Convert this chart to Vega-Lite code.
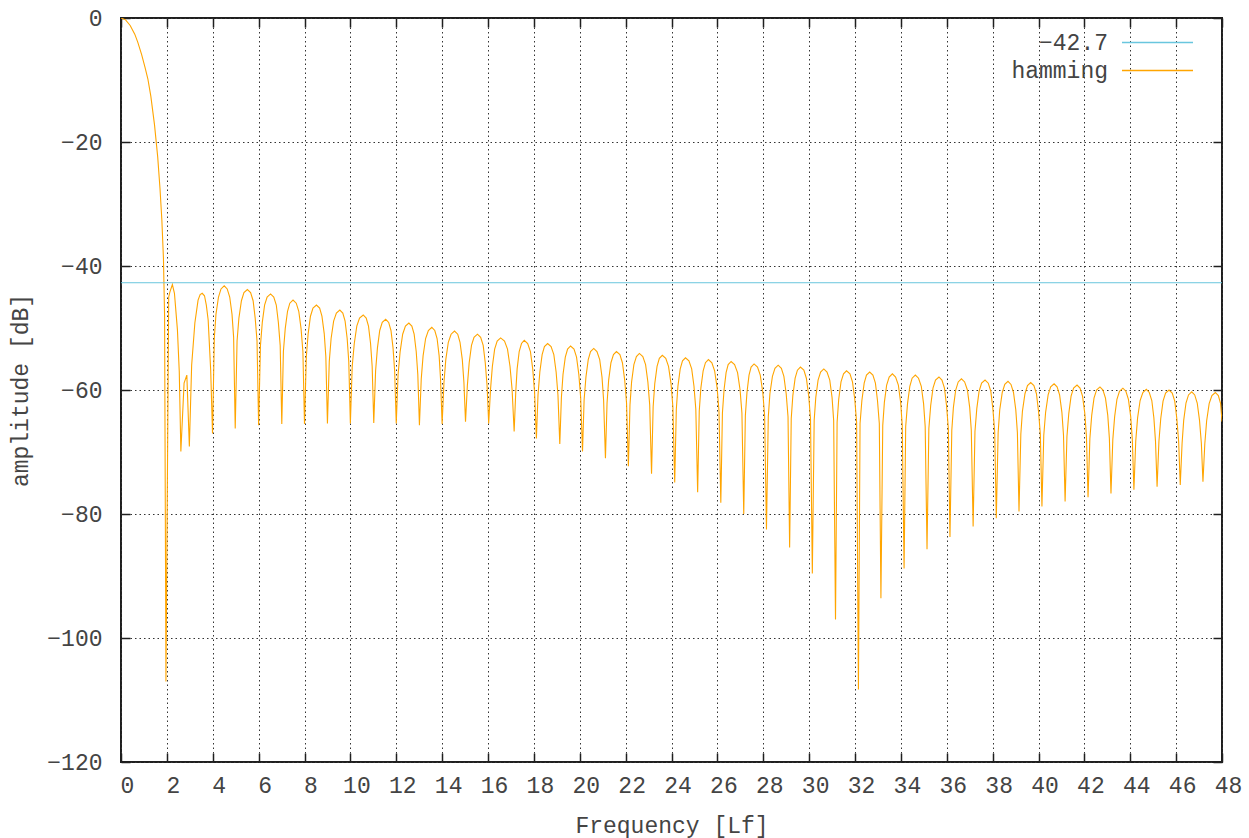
{
  "$schema": "https://vega.github.io/schema/vega-lite/v6.json",
  "width": 1101,
  "height": 744,
  "autosize": {"type": "none"},
  "padding": {"left": 121, "top": 18, "right": 27, "bottom": 76},
  "background": "white",
  "config": {
    "font": "Liberation Mono",
    "view": {"stroke": "#1f1f1f", "strokeWidth": 2},
    "axis": {
      "labelFont": "Liberation Mono",
      "labelFontSize": 23,
      "labelColor": "#444444",
      "titleFont": "Liberation Mono",
      "titleFontSize": 23,
      "titleFontWeight": "normal",
      "titleColor": "#444444",
      "tickColor": "#1f1f1f",
      "tickWidth": 1.5,
      "tickSize": -9,
      "domain": false,
      "gridColor": "#333333",
      "gridOpacity": 1,
      "gridWidth": 1,
      "gridDash": [1.5, 3],
      "labelFlush": false,
      "labelOverlap": false
    }
  },
  "datasets": {
    "hamming": [
      {"f":0,"db":0,"s":"hamming"},{"f":0.2,"db":-0.3,"s":"hamming"},{"f":0.4,"db":-1.2,"s":"hamming"},{"f":0.6,"db":-2.6,"s":"hamming"},{"f":0.73,"db":-3.9,"s":"hamming"},{"f":0.9,"db":-5.9,"s":"hamming"},{"f":1.05,"db":-8.0,"s":"hamming"},{"f":1.17,"db":-9.8,"s":"hamming"},{"f":1.3,"db":-12.6,"s":"hamming"},{"f":1.46,"db":-17.2,"s":"hamming"},{"f":1.6,"db":-22.4,"s":"hamming"},{"f":1.7,"db":-27.5,"s":"hamming"},{"f":1.78,"db":-32.5,"s":"hamming"},{"f":1.85,"db":-38.7,"s":"hamming"},{"f":1.9,"db":-48,"s":"hamming"},{"f":1.96,"db":-107,"s":"hamming"},
      {"f":2.08,"db":-45.0,"s":"hamming"},{"f":2.13,"db":-44.2,"s":"hamming"},{"f":2.24,"db":-43.0,"s":"hamming"},{"f":2.33,"db":-44.4,"s":"hamming"},{"f":2.46,"db":-50.3,"s":"hamming"},{"f":2.54,"db":-57.0,"s":"hamming"},{"f":2.61,"db":-69.9,"s":"hamming"},{"f":2.75,"db":-58.9,"s":"hamming"},{"f":2.87,"db":-57.6,"s":"hamming"},{"f":2.98,"db":-69.1,"s":"hamming"},{"f":3.08,"db":-56.0,"s":"hamming"},{"f":3.22,"db":-49.2,"s":"hamming"},{"f":3.36,"db":-45.5,"s":"hamming"},{"f":3.45,"db":-44.6,"s":"hamming"},{"f":3.54,"db":-44.4,"s":"hamming"},{"f":3.64,"db":-44.8,"s":"hamming"},{"f":3.72,"db":-46.3,"s":"hamming"},{"f":3.8,"db":-48.7,"s":"hamming"},{"f":3.91,"db":-56.8,"s":"hamming"},{"f":3.99,"db":-67.0,"s":"hamming"},
      {"f":4.07,"db":-51.5,"s":"hamming"},{"f":4.14,"db":-47.8,"s":"hamming"},{"f":4.25,"db":-45.0,"s":"hamming"},{"f":4.36,"db":-43.7,"s":"hamming"},{"f":4.5,"db":-43.2,"s":"hamming"},{"f":4.63,"db":-43.7,"s":"hamming"},{"f":4.74,"db":-45.0,"s":"hamming"},{"f":4.84,"db":-47.8,"s":"hamming"},{"f":4.91,"db":-51.5,"s":"hamming"},{"f":4.98,"db":-66.2,"s":"hamming"},
      {"f":5.06,"db":-52.1,"s":"hamming"},{"f":5.14,"db":-48.4,"s":"hamming"},{"f":5.25,"db":-45.6,"s":"hamming"},{"f":5.36,"db":-44.3,"s":"hamming"},{"f":5.51,"db":-43.8,"s":"hamming"},{"f":5.65,"db":-44.3,"s":"hamming"},{"f":5.76,"db":-45.6,"s":"hamming"},{"f":5.85,"db":-48.4,"s":"hamming"},{"f":5.93,"db":-52.1,"s":"hamming"},{"f":6.0,"db":-65.7,"s":"hamming"},
      {"f":6.08,"db":-52.8,"s":"hamming"},{"f":6.16,"db":-49.1,"s":"hamming"},{"f":6.26,"db":-46.3,"s":"hamming"},{"f":6.37,"db":-45.0,"s":"hamming"},{"f":6.52,"db":-44.5,"s":"hamming"},{"f":6.66,"db":-45.0,"s":"hamming"},{"f":6.77,"db":-46.3,"s":"hamming"},{"f":6.86,"db":-49.1,"s":"hamming"},{"f":6.94,"db":-52.8,"s":"hamming"},{"f":7.01,"db":-65.5,"s":"hamming"},
      {"f":7.08,"db":-53.8,"s":"hamming"},{"f":7.16,"db":-50.1,"s":"hamming"},{"f":7.26,"db":-47.3,"s":"hamming"},{"f":7.36,"db":-46.0,"s":"hamming"},{"f":7.5,"db":-45.5,"s":"hamming"},{"f":7.64,"db":-46.0,"s":"hamming"},{"f":7.75,"db":-47.3,"s":"hamming"},{"f":7.85,"db":-50.1,"s":"hamming"},{"f":7.93,"db":-53.8,"s":"hamming"},{"f":8.0,"db":-65.5,"s":"hamming"},
      {"f":8.08,"db":-54.6,"s":"hamming"},{"f":8.16,"db":-50.9,"s":"hamming"},{"f":8.26,"db":-48.1,"s":"hamming"},{"f":8.37,"db":-46.8,"s":"hamming"},{"f":8.52,"db":-46.3,"s":"hamming"},{"f":8.66,"db":-46.8,"s":"hamming"},{"f":8.76,"db":-48.1,"s":"hamming"},{"f":8.86,"db":-50.9,"s":"hamming"},{"f":8.93,"db":-54.6,"s":"hamming"},{"f":9.0,"db":-65.4,"s":"hamming"},
      {"f":9.08,"db":-55.4,"s":"hamming"},{"f":9.16,"db":-51.7,"s":"hamming"},{"f":9.27,"db":-48.9,"s":"hamming"},{"f":9.39,"db":-47.6,"s":"hamming"},{"f":9.54,"db":-47.1,"s":"hamming"},{"f":9.67,"db":-47.6,"s":"hamming"},{"f":9.77,"db":-48.9,"s":"hamming"},{"f":9.86,"db":-51.7,"s":"hamming"},{"f":9.93,"db":-55.4,"s":"hamming"},{"f":10.0,"db":-65.4,"s":"hamming"},
      {"f":10.08,"db":-56.2,"s":"hamming"},{"f":10.17,"db":-52.5,"s":"hamming"},{"f":10.28,"db":-49.7,"s":"hamming"},{"f":10.4,"db":-48.4,"s":"hamming"},{"f":10.56,"db":-47.9,"s":"hamming"},{"f":10.69,"db":-48.4,"s":"hamming"},{"f":10.79,"db":-49.7,"s":"hamming"},{"f":10.88,"db":-52.5,"s":"hamming"},{"f":10.95,"db":-56.2,"s":"hamming"},{"f":11.02,"db":-65.3,"s":"hamming"},
      {"f":11.1,"db":-56.9,"s":"hamming"},{"f":11.18,"db":-53.2,"s":"hamming"},{"f":11.28,"db":-50.4,"s":"hamming"},{"f":11.39,"db":-49.1,"s":"hamming"},{"f":11.54,"db":-48.6,"s":"hamming"},{"f":11.67,"db":-49.1,"s":"hamming"},{"f":11.77,"db":-50.4,"s":"hamming"},{"f":11.86,"db":-53.2,"s":"hamming"},{"f":11.93,"db":-56.9,"s":"hamming"},{"f":12.0,"db":-65.4,"s":"hamming"},
      {"f":12.08,"db":-57.5,"s":"hamming"},{"f":12.17,"db":-53.8,"s":"hamming"},{"f":12.28,"db":-51.0,"s":"hamming"},{"f":12.4,"db":-49.7,"s":"hamming"},{"f":12.55,"db":-49.2,"s":"hamming"},{"f":12.68,"db":-49.7,"s":"hamming"},{"f":12.78,"db":-51.0,"s":"hamming"},{"f":12.87,"db":-53.8,"s":"hamming"},{"f":12.94,"db":-57.5,"s":"hamming"},{"f":13.01,"db":-65.7,"s":"hamming"},
      {"f":13.09,"db":-58.2,"s":"hamming"},{"f":13.17,"db":-54.5,"s":"hamming"},{"f":13.28,"db":-51.7,"s":"hamming"},{"f":13.4,"db":-50.4,"s":"hamming"},{"f":13.55,"db":-49.9,"s":"hamming"},{"f":13.68,"db":-50.4,"s":"hamming"},{"f":13.78,"db":-51.7,"s":"hamming"},{"f":13.87,"db":-54.5,"s":"hamming"},{"f":13.93,"db":-58.2,"s":"hamming"},{"f":14.0,"db":-65.5,"s":"hamming"},
      {"f":14.08,"db":-58.8,"s":"hamming"},{"f":14.16,"db":-55.1,"s":"hamming"},{"f":14.27,"db":-52.3,"s":"hamming"},{"f":14.39,"db":-51.0,"s":"hamming"},{"f":14.54,"db":-50.5,"s":"hamming"},{"f":14.68,"db":-51.0,"s":"hamming"},{"f":14.78,"db":-52.3,"s":"hamming"},{"f":14.88,"db":-55.1,"s":"hamming"},{"f":14.95,"db":-58.8,"s":"hamming"},{"f":15.02,"db":-65.1,"s":"hamming"},
      {"f":15.1,"db":-59.3,"s":"hamming"},{"f":15.18,"db":-55.6,"s":"hamming"},{"f":15.28,"db":-52.8,"s":"hamming"},{"f":15.39,"db":-51.5,"s":"hamming"},{"f":15.54,"db":-51.0,"s":"hamming"},{"f":15.68,"db":-51.5,"s":"hamming"},{"f":15.79,"db":-52.8,"s":"hamming"},{"f":15.88,"db":-55.6,"s":"hamming"},{"f":15.96,"db":-59.3,"s":"hamming"},{"f":16.03,"db":-65.4,"s":"hamming"},
      {"f":16.11,"db":-59.9,"s":"hamming"},{"f":16.19,"db":-56.2,"s":"hamming"},{"f":16.29,"db":-53.4,"s":"hamming"},{"f":16.4,"db":-52.1,"s":"hamming"},{"f":16.55,"db":-51.6,"s":"hamming"},{"f":16.72,"db":-52.1,"s":"hamming"},{"f":16.85,"db":-53.4,"s":"hamming"},{"f":16.96,"db":-56.2,"s":"hamming"},{"f":17.05,"db":-59.9,"s":"hamming"},{"f":17.14,"db":-66.7,"s":"hamming"},
      {"f":17.21,"db":-60.3,"s":"hamming"},{"f":17.27,"db":-56.6,"s":"hamming"},{"f":17.36,"db":-53.8,"s":"hamming"},{"f":17.46,"db":-52.5,"s":"hamming"},{"f":17.58,"db":-52.0,"s":"hamming"},{"f":17.73,"db":-52.5,"s":"hamming"},{"f":17.85,"db":-53.8,"s":"hamming"},{"f":17.95,"db":-56.6,"s":"hamming"},{"f":18.03,"db":-60.3,"s":"hamming"},{"f":18.11,"db":-67.8,"s":"hamming"},
      {"f":18.18,"db":-60.8,"s":"hamming"},{"f":18.26,"db":-57.1,"s":"hamming"},{"f":18.36,"db":-54.3,"s":"hamming"},{"f":18.46,"db":-53.0,"s":"hamming"},{"f":18.6,"db":-52.5,"s":"hamming"},{"f":18.75,"db":-53.0,"s":"hamming"},{"f":18.87,"db":-54.3,"s":"hamming"},{"f":18.97,"db":-57.1,"s":"hamming"},{"f":19.05,"db":-60.8,"s":"hamming"},{"f":19.13,"db":-68.7,"s":"hamming"},
      {"f":19.2,"db":-61.2,"s":"hamming"},{"f":19.27,"db":-57.5,"s":"hamming"},{"f":19.37,"db":-54.7,"s":"hamming"},{"f":19.47,"db":-53.4,"s":"hamming"},{"f":19.6,"db":-52.9,"s":"hamming"},{"f":19.75,"db":-53.4,"s":"hamming"},{"f":19.86,"db":-54.7,"s":"hamming"},{"f":19.96,"db":-57.5,"s":"hamming"},{"f":20.04,"db":-61.2,"s":"hamming"},{"f":20.12,"db":-69.9,"s":"hamming"},
      {"f":20.19,"db":-61.6,"s":"hamming"},{"f":20.27,"db":-57.9,"s":"hamming"},{"f":20.37,"db":-55.1,"s":"hamming"},{"f":20.47,"db":-53.8,"s":"hamming"},{"f":20.61,"db":-53.3,"s":"hamming"},{"f":20.75,"db":-53.8,"s":"hamming"},{"f":20.87,"db":-55.1,"s":"hamming"},{"f":20.97,"db":-57.9,"s":"hamming"},{"f":21.04,"db":-61.6,"s":"hamming"},{"f":21.12,"db":-71.0,"s":"hamming"},
      {"f":21.19,"db":-62.1,"s":"hamming"},{"f":21.26,"db":-58.4,"s":"hamming"},{"f":21.36,"db":-55.6,"s":"hamming"},{"f":21.47,"db":-54.3,"s":"hamming"},{"f":21.6,"db":-53.8,"s":"hamming"},{"f":21.75,"db":-54.3,"s":"hamming"},{"f":21.86,"db":-55.6,"s":"hamming"},{"f":21.96,"db":-58.4,"s":"hamming"},{"f":22.04,"db":-62.1,"s":"hamming"},{"f":22.12,"db":-72.3,"s":"hamming"},
      {"f":22.19,"db":-62.4,"s":"hamming"},{"f":22.26,"db":-58.7,"s":"hamming"},{"f":22.36,"db":-55.9,"s":"hamming"},{"f":22.47,"db":-54.6,"s":"hamming"},{"f":22.6,"db":-54.1,"s":"hamming"},{"f":22.75,"db":-54.6,"s":"hamming"},{"f":22.87,"db":-55.9,"s":"hamming"},{"f":22.97,"db":-58.7,"s":"hamming"},{"f":23.05,"db":-62.4,"s":"hamming"},{"f":23.13,"db":-73.5,"s":"hamming"},
      {"f":23.2,"db":-62.7,"s":"hamming"},{"f":23.27,"db":-59.0,"s":"hamming"},{"f":23.37,"db":-56.2,"s":"hamming"},{"f":23.47,"db":-54.9,"s":"hamming"},{"f":23.6,"db":-54.4,"s":"hamming"},{"f":23.75,"db":-54.9,"s":"hamming"},{"f":23.87,"db":-56.2,"s":"hamming"},{"f":23.98,"db":-59.0,"s":"hamming"},{"f":24.06,"db":-62.7,"s":"hamming"},{"f":24.14,"db":-74.9,"s":"hamming"},
      {"f":24.21,"db":-63.1,"s":"hamming"},{"f":24.28,"db":-59.4,"s":"hamming"},{"f":24.38,"db":-56.6,"s":"hamming"},{"f":24.48,"db":-55.3,"s":"hamming"},{"f":24.61,"db":-54.8,"s":"hamming"},{"f":24.76,"db":-55.3,"s":"hamming"},{"f":24.88,"db":-56.6,"s":"hamming"},{"f":24.98,"db":-59.4,"s":"hamming"},{"f":25.06,"db":-63.1,"s":"hamming"},{"f":25.14,"db":-76.5,"s":"hamming"},
      {"f":25.21,"db":-63.4,"s":"hamming"},{"f":25.28,"db":-59.7,"s":"hamming"},{"f":25.38,"db":-56.9,"s":"hamming"},{"f":25.48,"db":-55.6,"s":"hamming"},{"f":25.61,"db":-55.1,"s":"hamming"},{"f":25.76,"db":-55.6,"s":"hamming"},{"f":25.88,"db":-56.9,"s":"hamming"},{"f":25.99,"db":-59.7,"s":"hamming"},{"f":26.07,"db":-63.4,"s":"hamming"},{"f":26.15,"db":-78.2,"s":"hamming"},
      {"f":26.22,"db":-63.7,"s":"hamming"},{"f":26.29,"db":-60.0,"s":"hamming"},{"f":26.38,"db":-57.2,"s":"hamming"},{"f":26.47,"db":-55.9,"s":"hamming"},{"f":26.6,"db":-55.4,"s":"hamming"},{"f":26.75,"db":-55.9,"s":"hamming"},{"f":26.88,"db":-57.2,"s":"hamming"},{"f":26.99,"db":-60.0,"s":"hamming"},{"f":27.07,"db":-63.7,"s":"hamming"},{"f":27.15,"db":-80.0,"s":"hamming"},
      {"f":27.22,"db":-64.1,"s":"hamming"},{"f":27.29,"db":-60.4,"s":"hamming"},{"f":27.38,"db":-57.6,"s":"hamming"},{"f":27.47,"db":-56.3,"s":"hamming"},{"f":27.6,"db":-55.8,"s":"hamming"},{"f":27.75,"db":-56.3,"s":"hamming"},{"f":27.87,"db":-57.6,"s":"hamming"},{"f":27.98,"db":-60.4,"s":"hamming"},{"f":28.06,"db":-64.1,"s":"hamming"},{"f":28.14,"db":-82.5,"s":"hamming"},
      {"f":28.22,"db":-64.3,"s":"hamming"},{"f":28.29,"db":-60.6,"s":"hamming"},{"f":28.4,"db":-57.8,"s":"hamming"},{"f":28.51,"db":-56.5,"s":"hamming"},{"f":28.65,"db":-56.0,"s":"hamming"},{"f":28.79,"db":-56.5,"s":"hamming"},{"f":28.9,"db":-57.8,"s":"hamming"},{"f":29.0,"db":-60.6,"s":"hamming"},{"f":29.08,"db":-64.3,"s":"hamming"},{"f":29.15,"db":-85.4,"s":"hamming"},
      {"f":29.22,"db":-64.6,"s":"hamming"},{"f":29.29,"db":-60.9,"s":"hamming"},{"f":29.39,"db":-58.1,"s":"hamming"},{"f":29.49,"db":-56.8,"s":"hamming"},{"f":29.62,"db":-56.3,"s":"hamming"},{"f":29.77,"db":-56.8,"s":"hamming"},{"f":29.88,"db":-58.1,"s":"hamming"},{"f":29.98,"db":-60.9,"s":"hamming"},{"f":30.06,"db":-64.6,"s":"hamming"},{"f":30.14,"db":-89.6,"s":"hamming"},
      {"f":30.22,"db":-64.9,"s":"hamming"},{"f":30.29,"db":-61.2,"s":"hamming"},{"f":30.39,"db":-58.4,"s":"hamming"},{"f":30.5,"db":-57.1,"s":"hamming"},{"f":30.64,"db":-56.6,"s":"hamming"},{"f":30.78,"db":-57.1,"s":"hamming"},{"f":30.9,"db":-58.4,"s":"hamming"},{"f":31.0,"db":-61.2,"s":"hamming"},{"f":31.07,"db":-64.9,"s":"hamming"},{"f":31.15,"db":-97.0,"s":"hamming"},
      {"f":31.22,"db":-65.2,"s":"hamming"},{"f":31.29,"db":-61.5,"s":"hamming"},{"f":31.39,"db":-58.7,"s":"hamming"},{"f":31.5,"db":-57.4,"s":"hamming"},{"f":31.63,"db":-56.9,"s":"hamming"},{"f":31.78,"db":-57.4,"s":"hamming"},{"f":31.89,"db":-58.7,"s":"hamming"},{"f":31.99,"db":-61.5,"s":"hamming"},{"f":32.07,"db":-65.2,"s":"hamming"},{"f":32.15,"db":-108.3,"s":"hamming"},
      {"f":32.22,"db":-65.4,"s":"hamming"},{"f":32.3,"db":-61.7,"s":"hamming"},{"f":32.4,"db":-58.9,"s":"hamming"},{"f":32.5,"db":-57.6,"s":"hamming"},{"f":32.64,"db":-57.1,"s":"hamming"},{"f":32.78,"db":-57.6,"s":"hamming"},{"f":32.89,"db":-58.9,"s":"hamming"},{"f":32.98,"db":-61.7,"s":"hamming"},{"f":33.06,"db":-65.4,"s":"hamming"},{"f":33.13,"db":-93.6,"s":"hamming"},
      {"f":33.21,"db":-65.7,"s":"hamming"},{"f":33.28,"db":-62.0,"s":"hamming"},{"f":33.38,"db":-59.2,"s":"hamming"},{"f":33.49,"db":-57.9,"s":"hamming"},{"f":33.63,"db":-57.4,"s":"hamming"},{"f":33.77,"db":-57.9,"s":"hamming"},{"f":33.89,"db":-59.2,"s":"hamming"},{"f":33.99,"db":-62.0,"s":"hamming"},{"f":34.06,"db":-65.7,"s":"hamming"},{"f":34.14,"db":-88.8,"s":"hamming"},
      {"f":34.21,"db":-65.9,"s":"hamming"},{"f":34.29,"db":-62.2,"s":"hamming"},{"f":34.39,"db":-59.4,"s":"hamming"},{"f":34.49,"db":-58.1,"s":"hamming"},{"f":34.63,"db":-57.6,"s":"hamming"},{"f":34.77,"db":-58.1,"s":"hamming"},{"f":34.89,"db":-59.4,"s":"hamming"},{"f":34.99,"db":-62.2,"s":"hamming"},{"f":35.06,"db":-65.9,"s":"hamming"},{"f":35.14,"db":-85.7,"s":"hamming"},
      {"f":35.22,"db":-66.2,"s":"hamming"},{"f":35.3,"db":-62.5,"s":"hamming"},{"f":35.4,"db":-59.7,"s":"hamming"},{"f":35.51,"db":-58.4,"s":"hamming"},{"f":35.66,"db":-57.9,"s":"hamming"},{"f":35.79,"db":-58.4,"s":"hamming"},{"f":35.9,"db":-59.7,"s":"hamming"},{"f":35.99,"db":-62.5,"s":"hamming"},{"f":36.07,"db":-66.2,"s":"hamming"},{"f":36.14,"db":-83.7,"s":"hamming"},
      {"f":36.22,"db":-66.5,"s":"hamming"},{"f":36.29,"db":-62.8,"s":"hamming"},{"f":36.39,"db":-60.0,"s":"hamming"},{"f":36.5,"db":-58.7,"s":"hamming"},{"f":36.64,"db":-58.2,"s":"hamming"},{"f":36.78,"db":-58.7,"s":"hamming"},{"f":36.9,"db":-60.0,"s":"hamming"},{"f":37.0,"db":-62.8,"s":"hamming"},{"f":37.07,"db":-66.5,"s":"hamming"},{"f":37.15,"db":-82.0,"s":"hamming"},
      {"f":37.23,"db":-66.7,"s":"hamming"},{"f":37.31,"db":-63.0,"s":"hamming"},{"f":37.41,"db":-60.2,"s":"hamming"},{"f":37.52,"db":-58.9,"s":"hamming"},{"f":37.67,"db":-58.4,"s":"hamming"},{"f":37.81,"db":-58.9,"s":"hamming"},{"f":37.92,"db":-60.2,"s":"hamming"},{"f":38.01,"db":-63.0,"s":"hamming"},{"f":38.09,"db":-66.7,"s":"hamming"},{"f":38.16,"db":-80.7,"s":"hamming"},
      {"f":38.24,"db":-66.9,"s":"hamming"},{"f":38.31,"db":-63.2,"s":"hamming"},{"f":38.42,"db":-60.4,"s":"hamming"},{"f":38.53,"db":-59.1,"s":"hamming"},{"f":38.67,"db":-58.6,"s":"hamming"},{"f":38.8,"db":-59.1,"s":"hamming"},{"f":38.91,"db":-60.4,"s":"hamming"},{"f":39.01,"db":-63.2,"s":"hamming"},{"f":39.08,"db":-66.9,"s":"hamming"},{"f":39.15,"db":-79.6,"s":"hamming"},
      {"f":39.23,"db":-67.1,"s":"hamming"},{"f":39.3,"db":-63.4,"s":"hamming"},{"f":39.41,"db":-60.6,"s":"hamming"},{"f":39.52,"db":-59.3,"s":"hamming"},{"f":39.66,"db":-58.8,"s":"hamming"},{"f":39.8,"db":-59.3,"s":"hamming"},{"f":39.91,"db":-60.6,"s":"hamming"},{"f":40.0,"db":-63.4,"s":"hamming"},{"f":40.08,"db":-67.1,"s":"hamming"},{"f":40.15,"db":-78.8,"s":"hamming"},
      {"f":40.23,"db":-67.3,"s":"hamming"},{"f":40.31,"db":-63.6,"s":"hamming"},{"f":40.42,"db":-60.8,"s":"hamming"},{"f":40.53,"db":-59.5,"s":"hamming"},{"f":40.68,"db":-59.0,"s":"hamming"},{"f":40.81,"db":-59.5,"s":"hamming"},{"f":40.92,"db":-60.8,"s":"hamming"},{"f":41.02,"db":-63.6,"s":"hamming"},{"f":41.09,"db":-67.3,"s":"hamming"},{"f":41.16,"db":-78.0,"s":"hamming"},
      {"f":41.24,"db":-67.5,"s":"hamming"},{"f":41.32,"db":-63.8,"s":"hamming"},{"f":41.42,"db":-61.0,"s":"hamming"},{"f":41.53,"db":-59.7,"s":"hamming"},{"f":41.68,"db":-59.2,"s":"hamming"},{"f":41.81,"db":-59.7,"s":"hamming"},{"f":41.92,"db":-61.0,"s":"hamming"},{"f":42.02,"db":-63.8,"s":"hamming"},{"f":42.09,"db":-67.5,"s":"hamming"},{"f":42.16,"db":-77.3,"s":"hamming"},
      {"f":42.24,"db":-67.8,"s":"hamming"},{"f":42.32,"db":-64.1,"s":"hamming"},{"f":42.42,"db":-61.3,"s":"hamming"},{"f":42.53,"db":-60.0,"s":"hamming"},{"f":42.68,"db":-59.5,"s":"hamming"},{"f":42.81,"db":-60.0,"s":"hamming"},{"f":42.92,"db":-61.3,"s":"hamming"},{"f":43.02,"db":-64.1,"s":"hamming"},{"f":43.09,"db":-67.8,"s":"hamming"},{"f":43.16,"db":-76.7,"s":"hamming"},
      {"f":43.24,"db":-68.0,"s":"hamming"},{"f":43.32,"db":-64.3,"s":"hamming"},{"f":43.42,"db":-61.5,"s":"hamming"},{"f":43.53,"db":-60.2,"s":"hamming"},{"f":43.68,"db":-59.7,"s":"hamming"},{"f":43.81,"db":-60.2,"s":"hamming"},{"f":43.92,"db":-61.5,"s":"hamming"},{"f":44.02,"db":-64.3,"s":"hamming"},{"f":44.09,"db":-68.0,"s":"hamming"},{"f":44.16,"db":-76.1,"s":"hamming"},
      {"f":44.24,"db":-68.2,"s":"hamming"},{"f":44.32,"db":-64.5,"s":"hamming"},{"f":44.43,"db":-61.7,"s":"hamming"},{"f":44.55,"db":-60.4,"s":"hamming"},{"f":44.7,"db":-59.9,"s":"hamming"},{"f":44.83,"db":-60.4,"s":"hamming"},{"f":44.94,"db":-61.7,"s":"hamming"},{"f":45.03,"db":-64.5,"s":"hamming"},{"f":45.1,"db":-68.2,"s":"hamming"},{"f":45.17,"db":-75.6,"s":"hamming"},
      {"f":45.25,"db":-68.3,"s":"hamming"},{"f":45.33,"db":-64.6,"s":"hamming"},{"f":45.43,"db":-61.8,"s":"hamming"},{"f":45.54,"db":-60.5,"s":"hamming"},{"f":45.69,"db":-60.0,"s":"hamming"},{"f":45.83,"db":-60.5,"s":"hamming"},{"f":45.94,"db":-61.8,"s":"hamming"},{"f":46.03,"db":-64.6,"s":"hamming"},{"f":46.11,"db":-68.3,"s":"hamming"},{"f":46.18,"db":-75.3,"s":"hamming"},
      {"f":46.26,"db":-68.6,"s":"hamming"},{"f":46.33,"db":-64.9,"s":"hamming"},{"f":46.43,"db":-62.1,"s":"hamming"},{"f":46.54,"db":-60.8,"s":"hamming"},{"f":46.68,"db":-60.3,"s":"hamming"},{"f":46.81,"db":-60.8,"s":"hamming"},{"f":46.92,"db":-62.1,"s":"hamming"},{"f":47.02,"db":-64.9,"s":"hamming"},{"f":47.1,"db":-68.6,"s":"hamming"},{"f":47.17,"db":-74.8,"s":"hamming"},
      {"f":47.25,"db":-68.7,"s":"hamming"},{"f":47.33,"db":-65.0,"s":"hamming"},{"f":47.44,"db":-62.2,"s":"hamming"},{"f":47.56,"db":-60.9,"s":"hamming"},{"f":47.71,"db":-60.4,"s":"hamming"},{"f":47.84,"db":-60.9,"s":"hamming"},{"f":47.94,"db":-62.2,"s":"hamming"},{"f":48.0,"db":-65.1,"s":"hamming"}
    ],
    "threshold": [{"level": -42.7, "start": 0, "end": 48}]
  },
  "layer": [
    {
      "data": {"name": "hamming"},
      "mark": {"type": "line", "strokeWidth": 1.1, "clip": true, "interpolate": "linear"},
      "encoding": {
        "x": {
          "field": "f", "type": "quantitative",
          "scale": {"domain": [0, 48], "nice": false, "zero": false},
          "axis": {
            "orient": "bottom",
            "values": [0,2,4,6,8,10,12,14,16,18,20,22,24,26,28,30,32,34,36,38,40,42,44,46,48],
            "grid": true,
            "labelPadding": 21,
            "labelOffset": 6,
            "title": "Frequency [Lf]",
            "titlePadding": 17
          }
        },
        "y": {
          "field": "db", "type": "quantitative",
          "scale": {"domain": [-120, 0], "nice": false, "zero": false},
          "axis": {
            "orient": "left",
            "values": [-120,-100,-80,-60,-40,-20,0],
            "grid": true,
            "labelPadding": 28,
            "title": "amplitude [dB]",
            "titlePadding": 14
          }
        },
        "color": {
          "field": "s", "type": "nominal", "title": null,
          "scale": {"domain": ["−42.7", "hamming"], "range": ["#69c6de", "#ffa500"]},
          "legend": {
            "orient": "none",
            "legendX": 1025,
            "legendY": 13,
            "title": null,
            "padding": 0,
            "symbolType": "M-14.2,0H14.2",
            "symbolSize": 25,
            "symbolStrokeWidth": 1.3,
            "labelAlign": "right",
            "labelOffset": -61,
            "labelFont": "Liberation Mono",
            "labelFontSize": 23,
            "labelColor": "#444444",
            "labelLimit": 0,
            "rowPadding": 4,
            "encode": {
              "symbols": {"update": {"stroke": {"scale": "color", "field": "value"}, "strokeOpacity": {"value": 1}}}
            }
          }
        }
      }
    },
    {
      "data": {"name": "threshold"},
      "mark": {"type": "rule", "strokeWidth": 1, "color": "#69c6de"},
      "encoding": {
        "x": {
          "field": "start", "type": "quantitative",
          "scale": {"domain": [0, 48], "nice": false, "zero": false},
          "axis": {
            "orient": "top",
            "values": [0,2,4,6,8,10,12,14,16,18,20,22,24,26,28,30,32,34,36,38,40,42,44,46,48],
            "grid": false, "labels": false, "title": null
          }
        },
        "x2": {"field": "end"},
        "y": {
          "field": "level", "type": "quantitative",
          "scale": {"domain": [-120, 0], "nice": false, "zero": false},
          "axis": {
            "orient": "right",
            "values": [-120,-100,-80,-60,-40,-20,0],
            "grid": false, "labels": false, "title": null
          }
        }
      }
    }
  ],
  "resolve": {"axis": {"x": "independent", "y": "independent"}}
}
